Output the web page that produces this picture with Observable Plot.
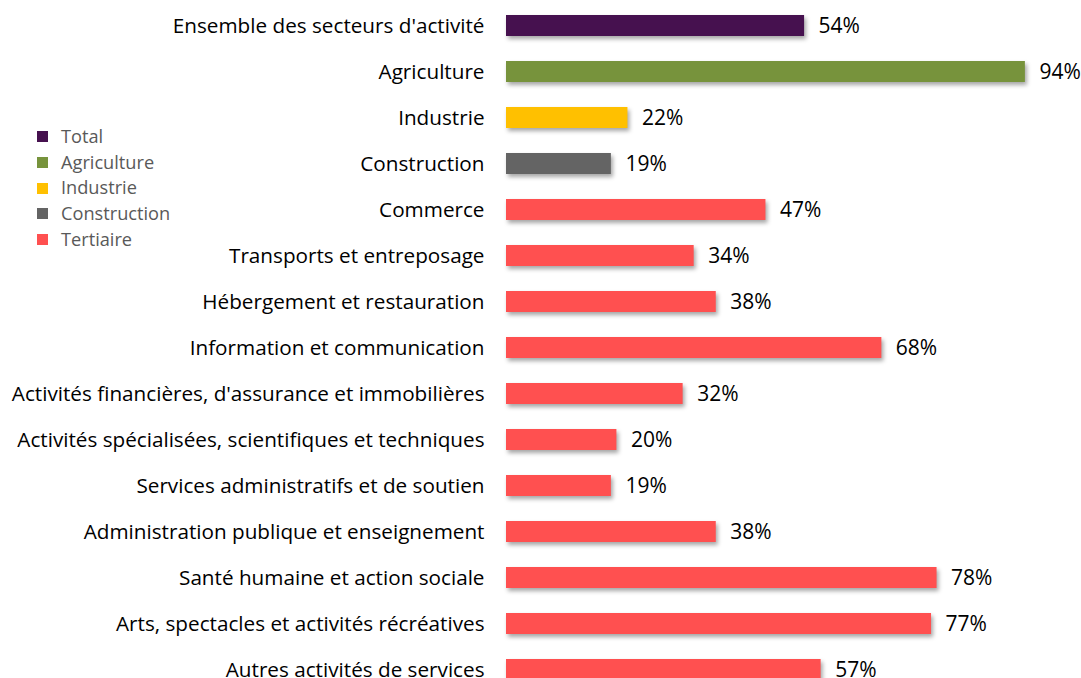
<!DOCTYPE html>
<html><head><meta charset="utf-8">
<script src="https://cdn.jsdelivr.net/npm/d3@7"></script>
<script src="https://cdn.jsdelivr.net/npm/@observablehq/plot@0.6"></script>
<style>
html,body{margin:0;padding:0;background:#fff;}
#wrap{position:relative;width:1081px;height:678px;overflow:hidden;font-family:"Open Sans",sans-serif;}
#legend{position:absolute;left:37px;top:124px;font-size:18.2px;color:#595959;line-height:25.7px;}
#legend .it{display:flex;align-items:center;}
#legend .sw{width:11px;height:11px;margin-right:13px;}
g[aria-label="bar"] rect{filter:drop-shadow(2px 3px 2px rgba(0,0,0,0.35));}
</style></head>
<body><div id="wrap"><div id="chart"></div><div id="legend"></div></div>
<script>
const categories = ["Ensemble des secteurs d'activité","Agriculture","Industrie","Construction","Commerce","Transports et entreposage","Hébergement et restauration","Information et communication","Activités financières, d'assurance et immobilières","Activités spécialisées, scientifiques et techniques","Services administratifs et de soutien","Administration publique et enseignement","Santé humaine et action sociale","Arts, spectacles et activités récréatives","Autres activités de services"];
const values = [54,94,22,19,47,34,38,68,32,20,19,38,78,77,57];
const groups = ["Total","Agriculture","Industrie","Construction","Tertiaire","Tertiaire","Tertiaire","Tertiaire","Tertiaire","Tertiaire","Tertiaire","Tertiaire","Tertiaire","Tertiaire","Tertiaire"];
const legendNames = ["Total","Agriculture","Industrie","Construction","Tertiaire"];
const legendColors = ["#46114F","#77933C","#FFC000","#646464","#FF5050"];

const data = categories.map((c,i)=>({cat:c, v:values[i], g:groups[i]}));

const chart = Plot.plot({
  width:1081, height:678,
  marginLeft:506, marginRight:23, marginTop:0, marginBottom:0,
  x:{domain:[0,100], axis:null},
  y:{domain:categories, range:[-11.1,705.5], padding:0.545, axis:null},
  color:{domain:legendNames, range:legendColors},
  style:{fontFamily:"'Open Sans', sans-serif", background:"#fff"},
  marks:[
    Plot.barX(data,{x:"v", y:"cat", fill:"g"}),
    Plot.text(data,{x:"v", y:"cat", text:d=>d.v+"%", textAnchor:"start", dx:14, fontSize:21, fill:"#000"}),
    Plot.text(data,{x:0, y:"cat", text:"cat", textAnchor:"end", dx:-22, fontSize:20.7, fill:"#000"})
  ]
});
document.getElementById("chart").appendChild(chart);
const lg = document.getElementById("legend");
legendNames.forEach((n,i)=>{
  const it=document.createElement("div"); it.className="it";
  const sw=document.createElement("div"); sw.className="sw"; sw.style.background=legendColors[i];
  const t=document.createElement("span"); t.textContent=n;
  it.appendChild(sw); it.appendChild(t); lg.appendChild(it);
});
</script></body></html>
